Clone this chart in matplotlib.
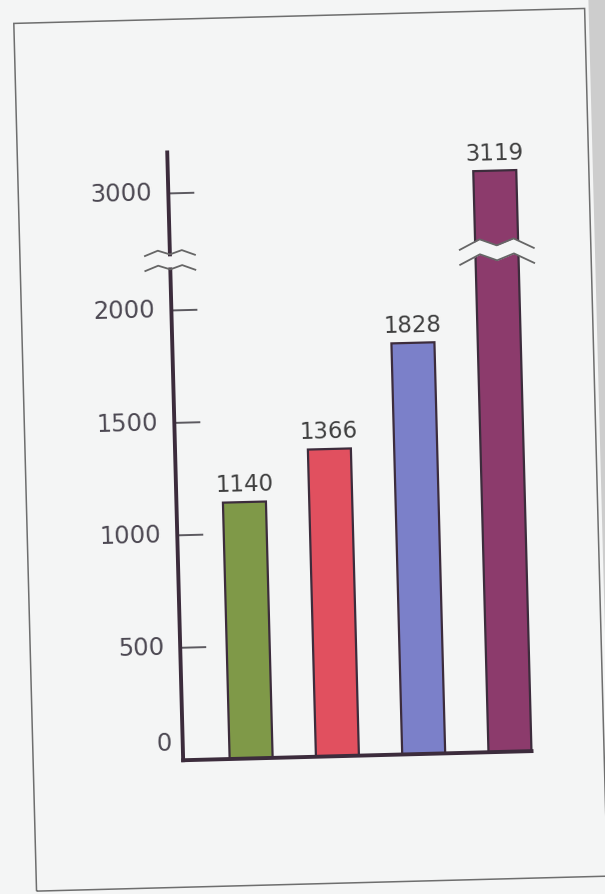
import numpy as np
import matplotlib
matplotlib.use('Agg')
import matplotlib.pyplot as plt
from matplotlib.transforms import Affine2D, blended_transform_factory
from matplotlib.patches import Rectangle

# data
values = [1140, 1366, 1828, 3119]
value_labels = ['1140', '1366', '1828', '3119']
bar_colors = ['#7f9948', '#e1505f', '#7b80c9', '#8c3b6c']
yticks = [0, 500, 1000, 1500, 2000, 3000]
ytick_labels = ['0', '500', '1000', '1500', '2000', '3000']

# broken y axis: value -> pixels above the baseline
real_knots = [-1000, 0, 2187, 2508, 3342, 6000]
px_knots = [-225, 0, 492, 508, 608, 927]

BG = '#f4f5f5'
AXIS_C = '#3c2c3c'
ANGLE = 1.5  # the page is photographed slightly rotated

W, H = 605, 894
AX_L, AX_B, AX_W, AX_H = 175, 137, 348.5, 608
BAR_STEP = 86.3


def fwd(y):
    return np.interp(y, real_knots, px_knots)


def inv(p):
    return np.interp(p, px_knots, real_knots)


def main():
    fig = plt.figure(figsize=(W / 100, H / 100), dpi=100)
    fig.patch.set_facecolor(BG)
    rot = Affine2D().rotate_deg_around(W / 2, H / 2, ANGLE)

    ax = fig.add_axes([AX_L / W, AX_B / H, AX_W / W, AX_H / H])
    ax.set_yscale('function', functions=(fwd, inv))
    ax.set_axis_off()

    x = np.arange(len(values))
    bars = ax.bar(x, values, width=43 / BAR_STEP, color=bar_colors,
                  edgecolor=AXIS_C, linewidth=1.6, zorder=2)
    for b in bars:
        b.set_transform(ax.transData + rot)
        b.set_clip_on(False)

    for i, v in enumerate(values):
        ax.text(i, v, value_labels[i], transform=ax.transData + Affine2D().translate(0, 17) + rot,
                ha='center', va='center', fontsize=16.5, color='#3f3f3f',
                rotation=ANGLE, rotation_mode='anchor')

    # axis lines (left one broken)
    ax_tr = ax.transAxes + rot
    ax.plot([0, 0], [0, 491 / AX_H], transform=ax_tr, color=AXIS_C, lw=2.8,
            solid_capstyle='projecting', clip_on=False, zorder=3)
    ax.plot([0, 0], [506 / AX_H, 1], transform=ax_tr, color=AXIS_C, lw=2.8,
            solid_capstyle='projecting', clip_on=False, zorder=3)
    ax.plot([0, 1], [0, 0], transform=ax_tr, color=AXIS_C, lw=2.8,
            solid_capstyle='projecting', clip_on=False, zorder=3)

    # ticks and labels
    ytr = ax.get_yaxis_transform()
    ax.hlines([t for t in yticks if t > 0], 0, 26 / AX_W, transform=ytr + rot,
              colors='#5c5a60', lw=1.4, clip_on=False)
    for t, lab in zip(yticks, ytick_labels):
        dx, dy = (-11, 17) if t == 0 else (-16, 0)
        ax.text(0, t, lab, transform=ytr + Affine2D().translate(dx, dy) + rot,
                ha='right', va='center', fontsize=17.5, color='#4c4852',
                rotation=ANGLE, rotation_mode='anchor')

    # break marks on the axis
    zx = np.array([-25, -12, 0, 12, 25]) / AX_W
    zy = np.array([-2.5, 2.5, -1.5, 2.5, -2.5])
    for c in (492.5, 507.5):
        ax.plot(zx, (c + zy) / AX_H, transform=ax_tr, color='#666666', lw=1.3,
                clip_on=False, zorder=4)

    # break in the tall bar
    blend = blended_transform_factory(ax.transData, ax.transAxes) + rot
    bx = 3 + np.array([-37, -17, 0, 17, 37]) / BAR_STEP
    by = np.array([-5, 5, -1.5, 5, -5])
    low = (493 + by) / AX_H
    up = (508 + by) / AX_H
    ax.fill_between(bx, low, up, transform=blend, color=BG, lw=0, zorder=3)
    ax.plot(bx, low, transform=blend, color='#666666', lw=1.3, clip_on=False, zorder=4)
    ax.plot(bx, up, transform=blend, color='#666666', lw=1.3, clip_on=False, zorder=4)

    ax.set_xlim(-0.788, 3.25)
    ax.set_ylim(0, 3342)

    # page frame and edge of the page
    fig.add_artist(Rectangle((600, -100), 120, 1100, transform=rot,
                             color='#cdcdcd', lw=0, zorder=0.5))
    fig.add_artist(Rectangle((25, 10), 571, 868, transform=rot, fill=False,
                             ec='#6e6e6e', lw=1.1))

    fig.savefig('out.png', dpi=100, facecolor=BG)


if __name__ == '__main__':
    main()
